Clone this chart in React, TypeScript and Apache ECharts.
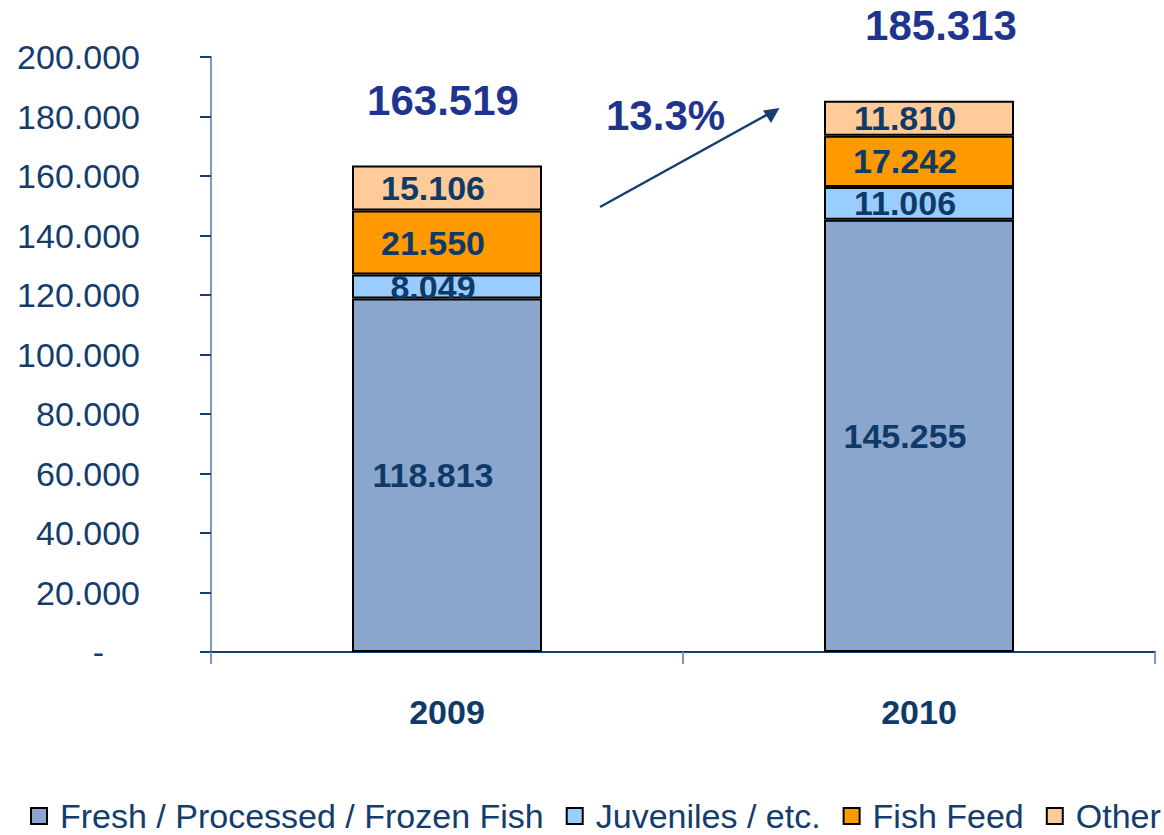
import React, { useEffect, useRef } from "react";
import * as echarts from "echarts";

const categories = ["2009", "2010"];
const freshFish = [118.813, 145.255];
const juveniles = [8.049, 11.006];
const fishFeed = [21.55, 17.242];
const other = [15.106, 11.81];
const totals = [163.519, 185.313];
const seriesNames = ["Fresh / Processed / Frozen Fish", "Juveniles / etc.", "Fish Feed", "Other"];
const yTicks = [0, 20, 40, 60, 80, 100, 120, 140, 160, 180, 200];

const FONT = "'Liberation Sans', Arial, sans-serif";
const NAVY = "#143C6C";
const LABEL = "#0F3A68";
const TOTAL = "#1F348E";

export default function App() {
  const ref = useRef<HTMLDivElement>(null);
  useEffect(() => {
    if (!ref.current) return;
    const chart = echarts.init(ref.current, undefined, { renderer: "svg" });
    const series = [freshFish, juveniles, fishFeed, other];
    const colors = ["#8AA6CC", "#99CCFF", "#FF9900", "#FFCC99"];
    const growth = ((totals[1] / totals[0] - 1) * 100).toFixed(1) + "%";
    const totalOffsets = [[-4, -65], [22, -75]];

    const barSeries = series.map((arr, k) => ({
      name: seriesNames[k],
      type: "bar",
      stack: "total",
      barWidth: 190,
      data: arr,
      itemStyle: { color: colors[k], borderColor: "#000", borderWidth: 2 },
      label: {
        show: true,
        position: "inside",
        offset: [-14, 0],
        formatter: (p: any) => p.value.toFixed(3),
        color: LABEL,
        fontFamily: FONT,
        fontWeight: "bold",
        fontSize: 34,
      },
    }));

    chart.setOption({
      animation: false,
      backgroundColor: "#fff",
      grid: { left: 211, right: 9, top: 57, bottom: 183, containLabel: false },
      xAxis: {
        type: "category",
        data: categories,
        axisLine: { lineStyle: { color: "#173E70", width: 2 } },
        axisTick: { show: true, length: 12, lineStyle: { color: "#7E9AB8", width: 2 } },
        axisLabel: {
          color: LABEL,
          fontFamily: FONT,
          fontWeight: "bold",
          fontSize: 34,
          margin: 43,
        },
      },
      yAxis: {
        type: "value",
        min: 0,
        max: 200,
        interval: 20,
        splitLine: { show: false },
        axisLine: { show: true, lineStyle: { color: "#7E9AB8", width: 2 } },
        axisTick: { show: true, length: 11, lineStyle: { color: "#173E70", width: 2 } },
        axisLabel: {
          margin: 71,
          color: NAVY,
          fontFamily: FONT,
          fontSize: 34,
          formatter: (v: number) => (yTicks.includes(v) && v === 0 ? "{d|-}" : v.toFixed(3)),
          rich: { d: { padding: [0, 36, 0, 0], color: NAVY, fontFamily: FONT, fontSize: 34 } },
        },
      },
      legend: {
        data: seriesNames,
        top: 799,
        left: 30,
        width: 1134,
        padding: 0,
        itemWidth: 16,
        itemHeight: 16,
        itemGap: 22,
        icon: "rect",
        itemStyle: { borderColor: "#000", borderWidth: 2 },
        textStyle: { color: NAVY, fontFamily: FONT, fontSize: 34, padding: [0, 0, 0, 8] },
      },
      series: [
        ...barSeries,
        {
          name: "total",
          type: "scatter",
          symbolSize: 1,
          itemStyle: { color: "rgba(0,0,0,0)", opacity: 1 },
          data: totals.map((t, i) => ({
            value: t,
            label: { offset: totalOffsets[i] },
          })),
          label: {
            show: true,
            position: "inside",
            formatter: (p: any) => p.value.toFixed(3),
            color: TOTAL,
            fontFamily: FONT,
            fontWeight: "bold",
            fontSize: 42,
          },
          z: 5,
        },
      ],
      graphic: [
        {
          type: "text",
          left: 606,
          top: 94,
          style: { text: growth, fill: TOTAL, font: `bold 42px ${FONT}` },
        },
        {
          type: "line",
          shape: { x1: 600, y1: 207, x2: 772, y2: 112 },
          style: { stroke: "#173E70", lineWidth: 2.5 },
        },
        {
          type: "polygon",
          shape: { points: [[779.5, 108], [763, 110.5], [771, 123]] },
          style: { fill: "#173E70" },
        },
      ],
    });
    return () => chart.dispose();
  }, []);
  return <div ref={ref} style={{ position: "fixed", left: 0, top: 0, width: 1164, height: 835 }} />;
}
